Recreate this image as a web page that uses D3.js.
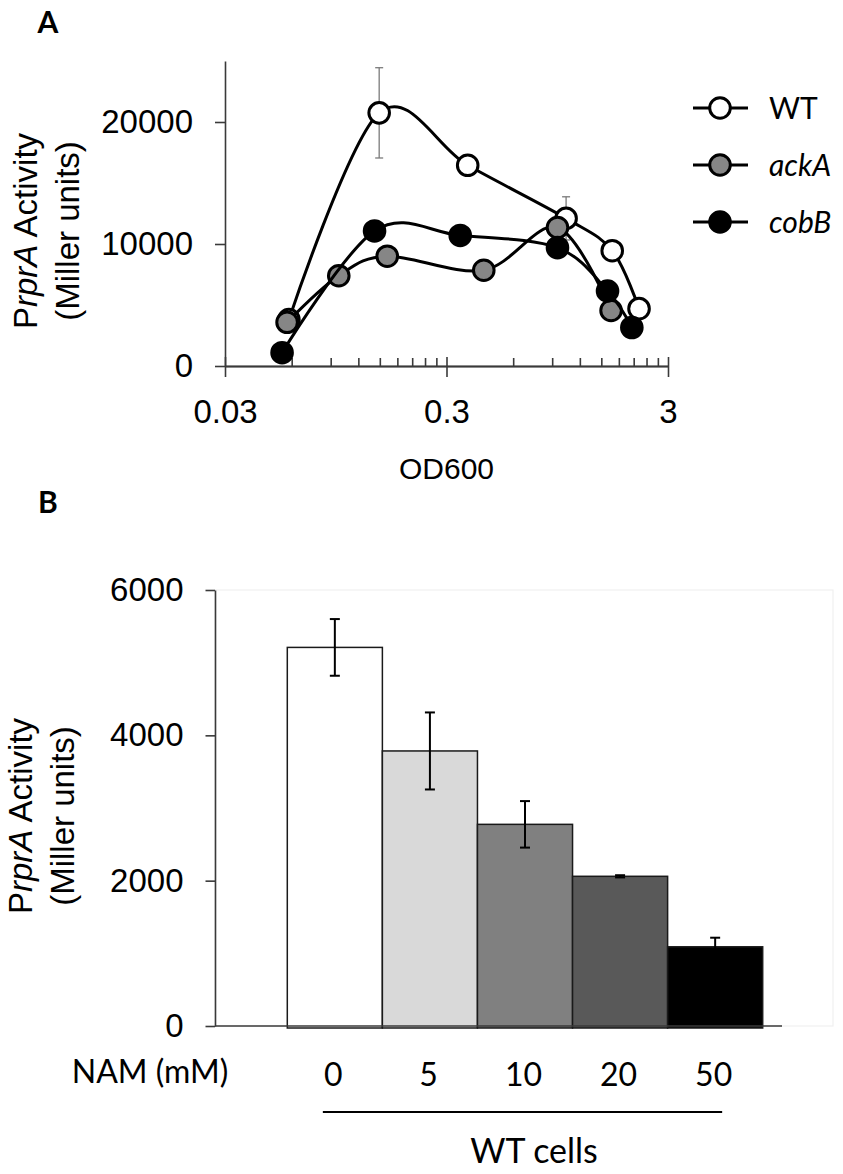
<!DOCTYPE html>
<html><head><meta charset="utf-8">
<script src="https://cdn.jsdelivr.net/npm/d3@7"></script>
<style>body{margin:0;background:#fff} svg{display:block}</style>
</head><body>
<svg id="chart" width="843" height="1174"></svg>
<script>
// ---------- Panel A data ----------
const seriesNames = ["WT", "ackA", "cobB"];
const odWT  = [0.0583, 0.149, 0.374, 1.04, 1.68, 2.22];
const actWT = [3800, 20750, 16450, 12100, 9450, 4700];
const errWT = [0, 3700, 0, 1770, 0, 0];
const odAck  = [0.0572, 0.0979, 0.162, 0.442, 0.951, 1.66];
const actAck = [3580, 7400, 9000, 7850, 11350, 4550];
const odCob  = [0.0543, 0.142, 0.346, 0.951, 1.6, 2.06];
const actCob = [1090, 11070, 10700, 9700, 6150, 3150];
const yTicksA = [0, 10000, 20000];
const xMajorA = [0.03, 0.3, 3];
const xMajorLabelsA = ["0.03", "0.3", "3"];
const xMinorMult = [2, 3, 4, 5, 6, 7, 8, 9];

// ---------- Panel B data ----------
const namConc = ["0", "5", "10", "20", "50"];
const activityB = [5210, 3785, 2775, 2060, 1090];
const errB = [390, 530, 320, 15, 125];
const yTicksB = [0, 2000, 4000, 6000];

// ---------- styles ----------
const seriesFill = ["#ffffff", "#868686", "#000000"];
const barFill = ["#ffffff", "#d9d9d9", "#808080", "#595959", "#000000"];
const ARIAL = "'Liberation Sans', Arial, sans-serif";
const CAL = "Lato, 'Open Sans', sans-serif";
const AX = "#3a3a3a";

const svg = d3.select("#chart");

// panel letters
svg.append("text").attr("x", 48).attr("y", 33).attr("text-anchor", "middle")
  .attr("font-family", CAL).attr("font-weight", "bold").attr("font-size", 30).text("A");
svg.append("text").attr("x", 48).attr("y", 513).attr("text-anchor", "middle")
  .attr("font-family", CAL).attr("font-weight", "bold").attr("font-size", 30).text("B");

// ================= Panel A =================
const xA = d3.scaleLog().domain([0.03, 3]).range([225, 668]);
const yA = d3.scaleLinear().domain([0, 25000]).range([366, 61]);
const gA = svg.append("g");

function styleAxis(g, fs, ff) {
  g.select(".domain").attr("stroke", AX).attr("stroke-width", 1.6);
  g.selectAll(".tick line").attr("stroke", AX).attr("stroke-width", 1.6);
  g.selectAll(".tick text").attr("font-size", fs).attr("font-family", ff).attr("fill", "#000");
}

// y axis
const yAxA = gA.append("g").attr("transform", `translate(${xA.range()[0]},0)`)
  .call(d3.axisLeft(yA).tickValues(yTicksA).tickSize(10).tickSizeOuter(0).tickPadding(22).tickFormat(d3.format("d")));
styleAxis(yAxA, 33, ARIAL);

// x axis majors (outer part with labels)
const xAxA = gA.append("g").attr("transform", `translate(0,${yA(0)})`)
  .call(d3.axisBottom(xA).tickValues(xMajorA).tickSize(11).tickSizeOuter(0).tickPadding(23)
    .tickFormat((d, i) => xMajorLabelsA[i]));
styleAxis(xAxA, 33, ARIAL);
// major inner part
const xAxA2 = gA.append("g").attr("transform", `translate(0,${yA(0)})`)
  .call(d3.axisBottom(xA).tickValues(xMajorA).tickSize(-9).tickSizeOuter(0).tickFormat(""));
styleAxis(xAxA2, 33, ARIAL);
// minor ticks
const minorVals = [];
xMajorA.slice(0, -1).forEach(b => xMinorMult.forEach(k => minorVals.push(b * k)));
const xAxA3 = gA.append("g").attr("transform", `translate(0,${yA(0)})`)
  .call(d3.axisBottom(xA).tickValues(minorVals).tickSize(-8).tickSizeOuter(0).tickFormat(""));
styleAxis(xAxA3, 33, ARIAL);

// axis titles
gA.append("text").attr("x", (xA.range()[0] + xA.range()[1]) / 2).attr("y", 479)
  .attr("text-anchor", "middle").attr("font-family", ARIAL).attr("font-size", 30).text("OD600");

function yTitle(g, bx1, bx2, cy) {
  const t1 = g.append("text").attr("transform", `translate(${bx1},${cy}) rotate(-90)`)
    .attr("text-anchor", "middle").attr("font-family", ARIAL).attr("font-size", 33);
  t1.append("tspan").text("P");
  t1.append("tspan").attr("font-style", "italic").text("rprA");
  t1.append("tspan").text(" Activity");
  g.append("text").attr("transform", `translate(${bx2},${cy}) rotate(-90)`)
    .attr("text-anchor", "middle").attr("font-family", ARIAL).attr("font-size", 33)
    .text("(Miller units)");
}
yTitle(gA, 37, 79, 231);

// series
const seriesA = [
  { od: odWT, act: actWT, err: errWT },
  { od: odAck, act: actAck, err: null },
  { od: odCob, act: actCob, err: null }
];
const lineGen = d3.line().x(d => xA(d[0])).y(d => yA(d[1])).curve(d3.curveCardinal.tension(0));

seriesA.forEach((s, si) => {
  const pts = s.od.map((o, i) => [o, s.act[i], s.err ? s.err[i] : 0]);
  const g = gA.append("g");
  // error bars
  const eb = g.selectAll(".eb").data(pts.filter(p => p[2] > 0)).enter().append("g");
  eb.append("line").attr("x1", d => xA(d[0])).attr("x2", d => xA(d[0]))
    .attr("y1", d => yA(d[1] - d[2])).attr("y2", d => yA(d[1] + d[2]));
  eb.append("line").attr("x1", d => xA(d[0]) - 4).attr("x2", d => xA(d[0]) + 4)
    .attr("y1", d => yA(d[1] + d[2])).attr("y2", d => yA(d[1] + d[2]));
  eb.append("line").attr("x1", d => xA(d[0]) - 4).attr("x2", d => xA(d[0]) + 4)
    .attr("y1", d => yA(d[1] - d[2])).attr("y2", d => yA(d[1] - d[2]));
  eb.selectAll("line").attr("stroke", "#7a7a7a").attr("stroke-width", 1.3);
  g.append("path").datum(pts).attr("d", lineGen).attr("fill", "none")
    .attr("stroke", "#000").attr("stroke-width", 3);
  g.selectAll("circle").data(pts).enter().append("circle")
    .attr("cx", d => xA(d[0])).attr("cy", d => yA(d[1])).attr("r", 10.3)
    .attr("fill", seriesFill[si]).attr("stroke", "#000").attr("stroke-width", 3);
});

// legend
const legY = [108, 165, 222];
const leg = gA.append("g");
seriesNames.forEach((n, i) => {
  leg.append("line").attr("x1", 693).attr("x2", 748).attr("y1", legY[i]).attr("y2", legY[i])
    .attr("stroke", "#000").attr("stroke-width", 3);
  leg.append("circle").attr("cx", 720).attr("cy", legY[i]).attr("r", 10.3)
    .attr("fill", seriesFill[i]).attr("stroke", "#000").attr("stroke-width", 3);
  leg.append("text").attr("x", 769).attr("y", legY[i]).attr("dy", "0.35em")
    .attr("font-family", CAL).attr("font-size", 30)
    .attr("font-style", i === 0 ? "normal" : "italic").text(n);
});

// ================= Panel B =================
const yB = d3.scaleLinear().domain([0, 6000]).range([1026, 590]);
const xB = d3.scaleBand().domain(namConc).range([287.3, 762.7]).padding(0);
const gB = svg.append("g");
const axisXB = 215, axisEndB = 782;

// faint plot-area border
gB.append("rect").attr("x", axisXB).attr("y", yB(6000)).attr("width", 833 - axisXB)
  .attr("height", yB(0) - yB(6000)).attr("fill", "none").attr("stroke", "#f0f0f0").attr("stroke-width", 1.2);

// bars
gB.selectAll(".bar").data(namConc).enter().append("rect")
  .attr("x", d => xB(d)).attr("width", xB.bandwidth())
  .attr("y", (d, i) => yB(activityB[i])).attr("height", (d, i) => yB(0) - yB(activityB[i]) + 2)
  .attr("fill", (d, i) => barFill[i]).attr("stroke", "#1a1a1a").attr("stroke-width", 1.5);

// error bars
const ebB = gB.selectAll(".ebB").data(namConc).enter().append("g");
const cx = d => xB(d) + xB.bandwidth() / 2;
ebB.append("line").attr("x1", cx).attr("x2", cx)
  .attr("y1", (d, i) => yB(activityB[i] - errB[i])).attr("y2", (d, i) => yB(activityB[i] + errB[i]));
ebB.append("line").attr("x1", d => cx(d) - 5).attr("x2", d => cx(d) + 5)
  .attr("y1", (d, i) => yB(activityB[i] + errB[i])).attr("y2", (d, i) => yB(activityB[i] + errB[i]));
ebB.append("line").attr("x1", d => cx(d) - 5).attr("x2", d => cx(d) + 5)
  .attr("y1", (d, i) => yB(activityB[i] - errB[i])).attr("y2", (d, i) => yB(activityB[i] - errB[i]));
ebB.selectAll("line").attr("stroke", "#000").attr("stroke-width", 2);

// y axis
const yAxB = gB.append("g").attr("transform", `translate(${axisXB},0)`)
  .call(d3.axisLeft(yB).tickValues(yTicksB).tickSize(9.5).tickSizeOuter(0).tickPadding(22).tickFormat(d3.format("d")));
styleAxis(yAxB, 33, ARIAL);
// x axis line
gB.append("line").attr("x1", axisXB).attr("x2", axisEndB).attr("y1", yB(0)).attr("y2", yB(0))
  .attr("stroke", AX).attr("stroke-width", 1.6);

// category labels
gB.selectAll(".cat").data(namConc).enter().append("text")
  .attr("x", d => cx(d) - 1.5).attr("y", 1086).attr("text-anchor", "middle")
  .attr("font-family", CAL).attr("font-size", 32).text(d => d);
gB.append("text").attr("x", 150).attr("y", 1083).attr("text-anchor", "middle")
  .attr("font-family", CAL).attr("font-size", 32).text("NAM (mM)");
gB.append("line").attr("x1", cx(namConc[0]) - 12).attr("x2", cx(namConc[4]) + 7)
  .attr("y1", 1112).attr("y2", 1112).attr("stroke", "#000").attr("stroke-width", 2);
gB.append("text").attr("x", 534).attr("y", 1163).attr("text-anchor", "middle")
  .attr("font-family", CAL).attr("font-size", 34).text("WT cells");

yTitle(gB, 32, 74, 816);
</script>
</body></html>
